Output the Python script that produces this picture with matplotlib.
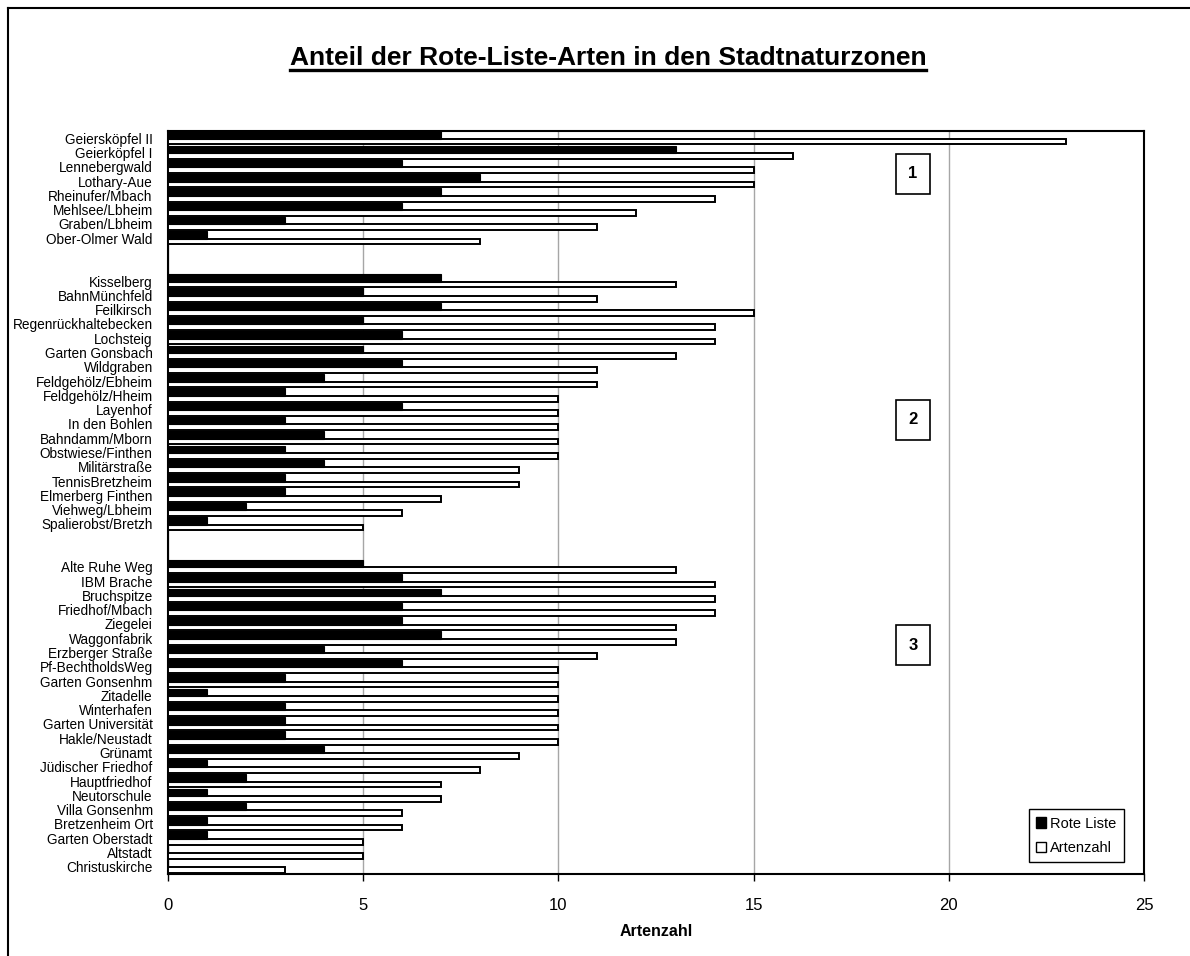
import matplotlib
matplotlib.use("Agg")
import matplotlib.pyplot as plt
from matplotlib.patches import Patch
from matplotlib.lines import Line2D

plt.rcParams['font.family'] = ['Liberation Sans', 'DejaVu Sans']

group1 = ["Geiersköpfel II", "Geierköpfel I", "Lennebergwald", "Lothary-Aue",
          "Rheinufer/Mbach", "Mehlsee/Lbheim", "Graben/Lbheim", "Ober-Olmer Wald"]
rote1 = [7, 13, 6, 8, 7, 6, 3, 1]
arten1 = [23, 16, 15, 15, 14, 12, 11, 8]

group2 = ["Kisselberg", "BahnMünchfeld", "Feilkirsch", "Regenrückhaltebecken",
          "Lochsteig", "Garten Gonsbach", "Wildgraben", "Feldgehölz/Ebheim",
          "Feldgehölz/Hheim", "Layenhof", "In den Bohlen", "Bahndamm/Mborn",
          "Obstwiese/Finthen", "Militärstraße", "TennisBretzheim",
          "Elmerberg Finthen", "Viehweg/Lbheim", "Spalierobst/Bretzh"]
rote2 = [7, 5, 7, 5, 6, 5, 6, 4, 3, 6, 3, 4, 3, 4, 3, 3, 2, 1]
arten2 = [13, 11, 15, 14, 14, 13, 11, 11, 10, 10, 10, 10, 10, 9, 9, 7, 6, 5]

group3 = ["Alte Ruhe Weg", "IBM Brache", "Bruchspitze", "Friedhof/Mbach",
          "Ziegelei", "Waggonfabrik", "Erzberger Straße", "Pf-BechtholdsWeg",
          "Garten Gonsenhm", "Zitadelle", "Winterhafen", "Garten Universität",
          "Hakle/Neustadt", "Grünamt", "Jüdischer Friedhof", "Hauptfriedhof",
          "Neutorschule", "Villa Gonsenhm", "Bretzenheim Ort", "Garten Oberstadt",
          "Altstadt", "Christuskirche"]
rote3 = [5, 6, 7, 6, 6, 7, 4, 6, 3, 1, 3, 3, 3, 4, 1, 2, 1, 2, 1, 1, 0, 0]
arten3 = [13, 14, 14, 14, 13, 13, 11, 10, 10, 10, 10, 10, 10, 9, 8, 7, 7, 6, 6, 5, 5, 3]

zone_labels = ["1", "2", "3"]
xticks = [0, 5, 10, 15, 20, 25]

# assemble with two empty slots between groups
labels, rote, arten = [], [], []
for gi, (g, r, a) in enumerate([(group1, rote1, arten1), (group2, rote2, arten2),
                                (group3, rote3, arten3)]):
    if gi > 0:
        labels += ["", ""]
        rote += [None, None]
        arten += [None, None]
    labels += g
    rote += r
    arten += a

W, H = 1190, 956
fig = plt.figure(figsize=(W / 100, H / 100), dpi=100)
ax = fig.add_axes([168 / W, 1 - 874 / H, (1144 - 168) / W, (874 - 131) / H])

pos = list(range(len(labels)))
pr = [p for p, v in zip(pos, rote) if v is not None]
vr = [v for v in rote if v is not None]
pa = [p for p, v in zip(pos, arten) if v is not None]
va = [v for v in arten if v is not None]

ax.barh([p + 0.24 for p in pa], va, height=0.40, color="white",
        edgecolor="black", linewidth=1.4, zorder=3)
ax.barh([p - 0.22 for p in pr], vr, height=0.52, color="black",
        edgecolor="black", linewidth=0.8, zorder=4)

ax.set_xlim(0, 25)
ax.set_ylim(len(labels) - 0.5, -0.5)
ax.set_xticks(xticks)
ax.set_xticklabels([str(t) for t in xticks], fontsize=12)
ax.set_yticks(pos)
ax.set_yticklabels(labels, fontsize=9.8)
ax.tick_params(axis='y', length=0, pad=11)
ax.tick_params(axis='x', length=5, width=1, direction='out', pad=12)
for s in ax.spines.values():
    s.set_linewidth(1.5)
    s.set_color("black")
ax.xaxis.grid(True, color="#a6a6a6", linewidth=1)
ax.set_axisbelow(True)
ax.set_xlabel("Artenzahl", fontsize=11.5, fontweight="bold", labelpad=8)

# zone boxes
zone_y = [2.5, 19.7, 35.5]
for lab, y in zip(zone_labels, zone_y):
    ax.text(19.08, y, lab, fontsize=12, fontweight="bold", ha="center", va="center",
            zorder=6,
            bbox=dict(boxstyle="square,pad=0.75", facecolor="white",
                      edgecolor="black", linewidth=1.2))

handles = [Patch(facecolor="black", edgecolor="black", label="Rote Liste"),
           Patch(facecolor="white", edgecolor="black", label="Artenzahl")]
leg = ax.legend(handles=handles, loc="lower right",
                bbox_to_anchor=((1124 - 168) / 976, (874 - 862) / 743),
                borderaxespad=0, fontsize=10.5, handlelength=0.7, handleheight=0.7,
                handletextpad=0.3, fancybox=False, framealpha=1, edgecolor="black",
                labelspacing=0.7, borderpad=0.5)
leg.get_frame().set_linewidth(1)
leg.set_zorder(7)

# title with underline
title = fig.text(608 / W, 1 - 65 / H, "Anteil der Rote-Liste-Arten in den Stadtnaturzonen",
                 fontsize=19, fontweight="bold", ha="center", va="baseline")
fig.canvas.draw()
bb = title.get_window_extent(fig.canvas.get_renderer())
uy = 1 - 70 / H
fig.add_artist(Line2D([bb.x0 / W, bb.x1 / W], [uy, uy], color="black",
                      linewidth=2.4, transform=fig.transFigure))

# outer frame (left and top visible)
fx, fy = 8 / W, 1 - 8 / H
fig.add_artist(Line2D([fx, fx], [0, fy], color="black", linewidth=1.5,
                      transform=fig.transFigure))
fig.add_artist(Line2D([fx, 1], [fy, fy], color="black", linewidth=1.5,
                      transform=fig.transFigure))

fig.savefig("out.png", dpi=100)
